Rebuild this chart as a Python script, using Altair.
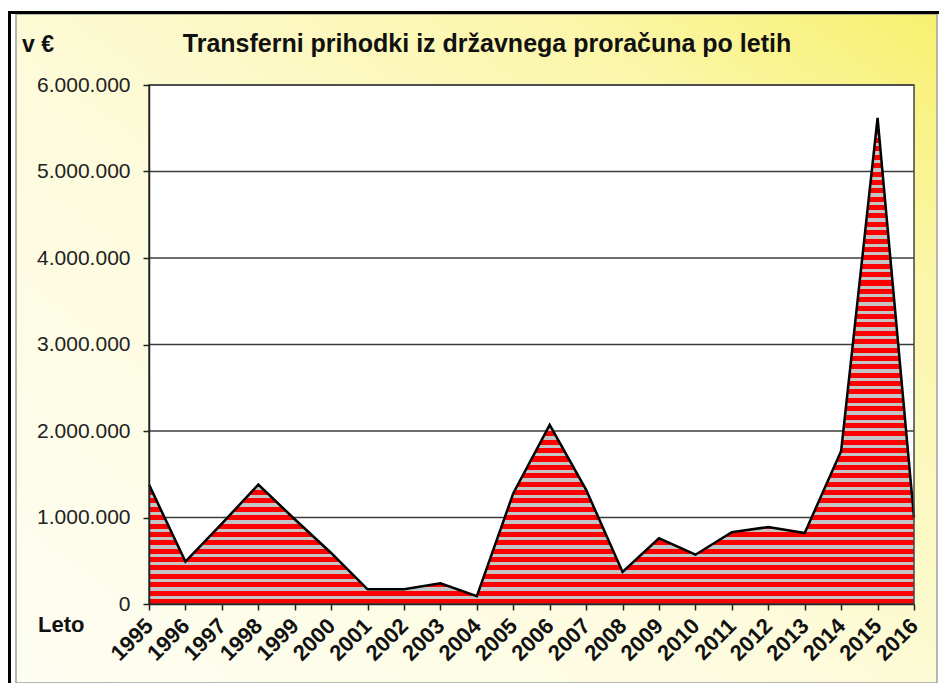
import altair as alt
import pandas as pd

# ---- data ----
years = list(range(1995, 2017))
values = [1380000, 490000, 930000, 1380000, 980000, 590000, 170000, 170000,
          240000, 90000, 1280000, 2070000, 1320000, 370000, 760000, 570000,
          830000, 890000, 820000, 1770000, 5620000, 1000000]
y_ticks = [0, 1000000, 2000000, 3000000, 4000000, 5000000, 6000000]
title_text = "Transferni prihodki iz državnega proračuna po letih"
unit_text = "v €"
x_label_text = "Leto"

df = pd.DataFrame({"Leto": years, "Vrednost": values})
grid_df = pd.DataFrame({"v": y_ticks[1:]})
one = pd.DataFrame({"a": [0]})

W, H = 765, 519
FONT = "Liberation Sans"

# striped fill (red / silver horizontal stripes) as a sharp-stop gradient
n_stripes = 58
red_part = 0.6
stops = []
for i in range(n_stripes):
    a = i / n_stripes
    b = (i + red_part) / n_stripes
    c = min(1.0, (i + 1) / n_stripes)
    stops += [{"offset": round(a, 5), "color": "#ff0000"},
              {"offset": round(b, 5), "color": "#ff0000"},
              {"offset": round(b, 5), "color": "#c4c4c4"},
              {"offset": round(c, 5), "color": "#c4c4c4"}]
stripe_fill = {"gradient": "linear", "x1": 0, "y1": 1, "x2": 0, "y2": 0, "stops": stops}

bg_fill = {"gradient": "linear", "x1": 0, "y1": 1, "x2": 1, "y2": 0,
           "stops": [{"offset": 0, "color": "#fefef3"},
                     {"offset": 0.45, "color": "#fdfbdc"},
                     {"offset": 0.8, "color": "#fbf6a8"},
                     {"offset": 1, "color": "#f8f06e"}]}

x_scale = alt.Scale(domain=[1995, 2016], nice=False, zero=False)
y_scale = alt.Scale(domain=[0, 6000000], nice=False)

x_axis = alt.Axis(values=years, format="d", labelAngle=-45, labelAlign="right",
                  labelBaseline="middle", labelFontWeight="bold", labelFontSize=22,
                  labelFont=FONT, labelColor="#111", labelPadding=12, labelOverlap=False,
                  tickSize=6, tickColor="#222", tickWidth=1.5, domainColor="#222",
                  domainWidth=1.5, grid=False, title=None, zindex=1)
y_axis = alt.Axis(values=y_ticks, labelFontSize=21, labelFont=FONT, labelColor="#222",
                  labelPadding=13, tickSize=6, tickColor="#222", tickWidth=1.5,
                  domainColor="#222", domainWidth=1.5, grid=False, title=None,
                  labelExpr="replace(format(datum.value, ','), /,/g, '.')", zindex=1)

bg = alt.Chart(one).mark_rect(fill=bg_fill, stroke="#a0a0a0", strokeWidth=1.5).encode(
    x=alt.value(-133), x2=alt.value(788), y=alt.value(-71), y2=alt.value(598))
top_line = alt.Chart(one).mark_rect(fill="#000000").encode(
    x=alt.value(-141), x2=alt.value(790), y=alt.value(-74), y2=alt.value(-71))
left_line = alt.Chart(one).mark_rect(fill="#000000").encode(
    x=alt.value(-141), x2=alt.value(-138), y=alt.value(-74), y2=alt.value(598))
plot_bg = alt.Chart(one).mark_rect(fill="#ffffff").encode(
    x=alt.value(0), x2=alt.value(W), y=alt.value(0), y2=alt.value(H))

grid = alt.Chart(grid_df).mark_rule(color="#3c3c3c", strokeWidth=1.4).encode(
    y=alt.Y("v:Q", scale=y_scale, axis=y_axis))

area = alt.Chart(df).mark_area(fill=stripe_fill).encode(
    x=alt.X("Leto:Q", scale=x_scale, axis=x_axis),
    y=alt.Y("Vrednost:Q", scale=y_scale, axis=y_axis))
line = alt.Chart(df).mark_line(color="#000000", strokeWidth=2.5).encode(
    x=alt.X("Leto:Q", scale=x_scale, axis=x_axis),
    y=alt.Y("Vrednost:Q", scale=y_scale, axis=y_axis))

frame = alt.Chart(one).mark_rect(fillOpacity=0, stroke="#444444", strokeWidth=1.5).encode(
    x=alt.value(0), x2=alt.value(W), y=alt.value(0), y2=alt.value(H))

title = alt.Chart(one).mark_text(text=title_text, font=FONT, fontSize=25, fontWeight="bold",
                                 align="center", baseline="alphabetic", color="#111").encode(
    x=alt.value(338), y=alt.value(-33))
unit = alt.Chart(one).mark_text(text=unit_text, font=FONT, fontSize=23, fontWeight="bold",
                                align="left", baseline="alphabetic", color="#111").encode(
    x=alt.value(-127), y=alt.value(-33))
leto = alt.Chart(one).mark_text(text=x_label_text, font=FONT, fontSize=22, fontWeight="bold",
                                align="left", baseline="alphabetic", color="#111").encode(
    x=alt.value(-111), y=alt.value(H + 28))

chart = alt.layer(bg, top_line, left_line, plot_bg, grid, area, line, frame,
                  title, unit, leto).properties(
    width=W, height=H,
    padding={"left": 141, "top": 77, "right": 25, "bottom": 79},
    autosize=alt.AutoSizeParams(type="none"),
).configure_view(strokeWidth=0).configure(background="#ffffff")

chart.save("out.html", embed_options={"renderer": "svg", "actions": False})
